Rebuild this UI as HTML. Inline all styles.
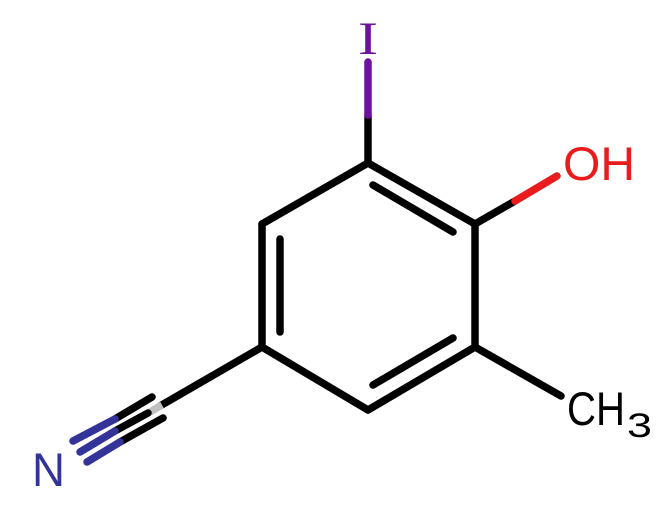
<!DOCTYPE html>
<html><head><meta charset="utf-8"><style>html,body{margin:0;padding:0;background:#fff}svg{display:block}</style></head>
<body>
<svg width="663" height="510" viewBox="0 0 663 510" xmlns="http://www.w3.org/2000/svg">
<g stroke-width="7.5" stroke-linecap="round" fill="none">
<g stroke="#000">
<line x1="368" y1="163" x2="475" y2="224"/>
<line x1="475" y1="224" x2="475" y2="347"/>
<line x1="475" y1="347" x2="368" y2="410"/>
<line x1="368" y1="410" x2="262" y2="347"/>
<line x1="262" y1="347" x2="262" y2="224"/>
<line x1="262" y1="224" x2="368" y2="163"/>
<line x1="280" y1="239" x2="280" y2="332"/>
<line x1="373" y1="185" x2="453" y2="232"/>
<line x1="373" y1="385" x2="453" y2="338"/>
<line x1="475" y1="347" x2="561" y2="396"/>
<line x1="475" y1="224" x2="515" y2="201"/>
<line x1="262" y1="347" x2="160" y2="406"/>
<line x1="368" y1="163" x2="368" y2="115"/>
</g>
<line x1="368" y1="115" x2="368" y2="62" stroke="#6e10a0"/>
<line x1="515" y1="201" x2="557" y2="176" stroke="#e81c1c"/>
<line x1="162" y1="405" x2="150" y2="412" stroke="#c0c0c0" stroke-linecap="butt"/>
<line x1="152" y1="397" x2="115" y2="419" stroke="#000"/>
<line x1="115" y1="419" x2="73" y2="441" stroke="#33339a"/>
<line x1="148" y1="413" x2="115" y2="431" stroke="#000"/>
<line x1="115" y1="431" x2="80" y2="452" stroke="#33339a"/>
<line x1="163" y1="418" x2="120" y2="442" stroke="#000"/>
<line x1="120" y1="442" x2="87" y2="462" stroke="#33339a"/>
</g>
<g font-family="Liberation Sans, sans-serif" font-size="47">
<text x="358" y="54" fill="#6e10a0" font-family="Liberation Serif, serif" textLength="20" lengthAdjust="spacingAndGlyphs">I</text>
<text x="563" y="180" fill="#e81c1c" textLength="72" lengthAdjust="spacingAndGlyphs">OH</text>
<text x="567" y="425" fill="#000" textLength="58" lengthAdjust="spacingAndGlyphs">CH</text>
<text x="627" y="437" fill="#000" font-size="34" textLength="25" lengthAdjust="spacingAndGlyphs">3</text>
<text x="32" y="486" fill="#33339a" textLength="33" lengthAdjust="spacingAndGlyphs">N</text>
</g>
</svg>
</body></html>
